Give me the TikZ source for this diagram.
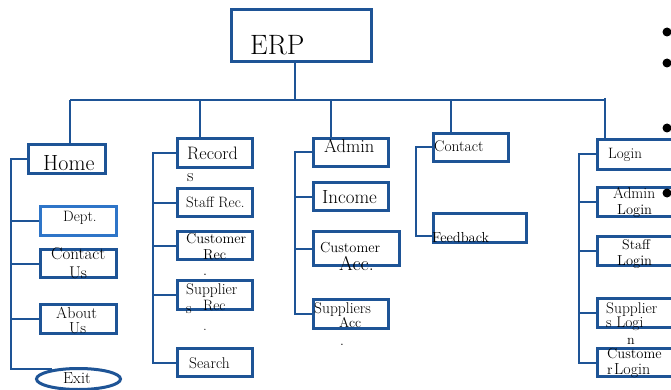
\documentclass[tikz,border=0pt]{standalone}
\usetikzlibrary{shapes.geometric,calc}
\definecolor{erpblue}{RGB}{30,84,150}
\definecolor{lightblue}{RGB}{46,117,200}
\tikzset{
  box/.style={draw=erpblue, line width=3pt, rectangle, inner sep=0pt},
  lbox/.style={draw=lightblue, line width=2.6pt, rectangle, inner sep=0pt},
  oval/.style={draw=erpblue, line width=3pt, ellipse, inner sep=0pt},
  wire/.style={draw=erpblue, line width=2pt},
  txt/.style={anchor=base west, inner sep=0pt, text=black},
}
\newcommand{\fs}[1]{\fontsize{#1}{#1}\selectfont}
\begin{document}
\begin{tikzpicture}[x=1pt,y=-1pt]
\clip (0,0) rectangle (671,390);
\fill[white] (0,0) rectangle (671,390);

% ---- boxes ----
\node[box, minimum width=140, minimum height=52] (erp) at (301.5,35.5) {};

\node[box, minimum width=77, minimum height=29] (home) at (67,159) {};
\node[lbox, minimum width=76, minimum height=29] (dept) at (78.5,221) {};
\node[box, minimum width=76, minimum height=28] (contactus) at (78.5,263.5) {};
\node[box, minimum width=76, minimum height=29] (aboutus) at (78.5,319) {};
\node[oval, minimum width=84, minimum height=21] (exit) at (78.5,379) {};

\node[box, minimum width=75, minimum height=29] (records) at (215,153) {};
\node[box, minimum width=75, minimum height=28] (staffrec) at (215,202.5) {};
\node[box, minimum width=75, minimum height=28] (custrec) at (215,245.5) {};
\node[box, minimum width=75, minimum height=29] (supprec) at (215,295) {};
\node[box, minimum width=75, minimum height=28] (search) at (215,362.5) {};

\node[box, minimum width=75, minimum height=28] (admin) at (351,152.5) {};
\node[box, minimum width=75, minimum height=28] (income) at (351,196.5) {};
\node[box, minimum width=86, minimum height=34] (custacc) at (356.5,248.5) {};
\node[box, minimum width=75, minimum height=29] (suppacc) at (351,314) {};

\node[box, minimum width=75, minimum height=28] (contact) at (471,147.5) {};
\node[box, minimum width=93, minimum height=29] (feedback) at (480,228) {};

\node[box, minimum width=78, minimum height=30] (login) at (636,154.5) {};
\node[box, minimum width=78, minimum height=29] (adminlogin) at (636,202) {};
\node[box, minimum width=78, minimum height=29] (stafflogin) at (636,251) {};
\node[box, minimum width=78, minimum height=29] (supplogin) at (636,313) {};
\node[box, minimum width=78, minimum height=28] (custlogin) at (636,362.5) {};

% ---- trunk and bus ----
\coordinate (top) at (295,100);
\coordinate (dHome) at (70,100);
\coordinate (dRec) at (200,100);
\coordinate (dAdm) at (331,100);
\coordinate (dCon) at (451,100);
\coordinate (dLog) at (605,100);
\draw[wire] (erp.south -| top) -- (top);
\draw[wire] (dHome) -- (606,100);
\draw[wire] (dHome) -- (dHome |- home.north);
\draw[wire] (dRec) -- (dRec |- records.north);
\draw[wire] (dAdm) -- (dAdm |- admin.north);
\draw[wire] (dCon) -- (dCon |- contact.north);
\draw[wire] ($(dLog)+(0,-2)$) -- (dLog |- login.north);

% ---- Home branch ----
\coordinate (hx) at (11,0);
\draw[wire] (home.west) -| (hx |- exit.160) -- (exit.160);
\draw[wire] (hx |- dept.west) -- (dept.west);
\draw[wire] (hx |- contactus.west) -- (contactus.west);
\draw[wire] (hx |- aboutus.west) -- (aboutus.west);

% ---- Records branch ----
\coordinate (rx) at (153,0);
\draw[wire] (records.west) -| (rx |- search.west) -- (search.west);
\draw[wire] (rx |- staffrec.west) -- (staffrec.west);
\draw[wire] (rx |- custrec.west) -- (custrec.west);
\draw[wire] (rx |- supprec.west) -- (supprec.west);

% ---- Admin branch ----
\coordinate (ax) at (295,0);
\draw[wire] (admin.west) -| (ax |- suppacc.west) -- (suppacc.west);
\draw[wire] (ax |- income.west) -- (income.west);
\draw[wire] (ax |- custacc.west) -- (custacc.west);

% ---- Contact branch ----
\coordinate (cx) at (416,0);
\coordinate (fb) at ($(feedback.west)+(0,8)$);
\draw[wire] (contact.west) -| (cx |- fb) -- (fb);

% ---- Login branch ----
\coordinate (lx) at (579,0);
\draw[wire] (login.west) -| (lx |- custlogin.west) -- (custlogin.west);
\draw[wire] (lx |- adminlogin.west) -- (adminlogin.west);
\draw[wire] (lx |- stafflogin.west) -- (stafflogin.west);
\draw[wire] (lx |- supplogin.west) -- (supplogin.west);

% ---- labels ----
\node[txt, font=\fs{28}] (t-erp) at (250,55) {ERP};

\node[txt, font=\fs{22}] (t-home) at (43,171) {Home};
\node[txt, font=\fs{15}] (t-dept) at (63,221) {Dept.};
\node[txt, font=\fs{17}] (t-cu1) at (51,259) {Contact};
\node[txt, font=\fs{17}] (t-cu2) at (69,278) {Us};
\node[txt, font=\fs{16}] (t-au1) at (56,318) {About};
\node[txt, font=\fs{16}] (t-au2) at (69,333) {Us};
\node[txt, font=\fs{16}] (t-exit) at (63,383) {Exit};

\node[txt, font=\fs{18}] (t-rec1) at (187,160) {Record};
\node[txt, font=\fs{18}] (t-rec2) at (187,182) {s};
\node[txt, font=\fs{15}] (t-staff) at (186,207) {Staff Rec.};
\node[txt, font=\fs{14.5}] (t-cr1) at (186,243) {Customer};
\node[txt, font=\fs{14.5}] (t-cr2) at (203,259) {Rec};
\node[txt, font=\fs{14.5}] (t-cr3) at (203,275) {.};
\node[txt, font=\fs{15.5}] (t-sr1) at (186,294) {Supplier};
\node[txt, font=\fs{15.5}] (t-sr2) at (186,313) {s};
\node[txt, font=\fs{15}] (t-sr3) at (203,310) {Rec};
\node[txt, font=\fs{15}] (t-sr4) at (203,330) {.};
\node[txt, font=\fs{15.5}] (t-search) at (189,368) {Search};

\node[txt, font=\fs{18.5}] (t-admin) at (324,153) {Admin};
\node[txt, font=\fs{19}] (t-income) at (322,203) {Income};
\node[txt, font=\fs{14.5}] (t-ca1) at (320,252) {Customer};
\node[txt, font=\fs{20}] (t-ca2) at (339,270) {Acc.};
\node[txt, font=\fs{15.5}] (t-sa1) at (314,313) {Suppliers};
\node[txt, font=\fs{14}] (t-sa2) at (339,327) {Acc};
\node[txt, font=\fs{14}] (t-sa3) at (340,345) {.};

\node[txt, font=\fs{15.5}] (t-contact) at (434,152) {Contact};
\node[txt, font=\fs{14.5}] (t-feed) at (432,242) {Feedback};

\node[txt, font=\fs{15}] (t-login) at (608,158) {Login};
\node[txt, font=\fs{15.5}] (t-al1) at (613,198) {Admin};
\node[txt, font=\fs{14.5}] (t-al2) at (617,214) {Login};
\node[txt, font=\fs{14}] (t-sl1) at (622,249) {Staff};
\node[txt, font=\fs{14.5}] (t-sl2) at (617,265) {Login};
\node[txt, font=\fs{15.5}] (t-pl1) at (606,313) {Supplier};
\node[txt, font=\fs{15.5}] (t-pl2) at (606,327) {s Logi};
\node[txt, font=\fs{14}] (t-pl3) at (627,344) {n};
\node[txt, font=\fs{14.5}] (t-cl1) at (607,358) {Custome};
\node[txt, font=\fs{14.5}] (t-cl2) at (607,374) {r};
\node[txt, font=\fs{16}] (t-cl3) at (614,374) {Login};

% ---- bullet marks ----
\fill (667,32) circle (4.5);
\fill (667,63) circle (4.5);
\fill (667,128) circle (4.5);
\fill (667,193) circle (4.5);
\end{tikzpicture}
\end{document}
